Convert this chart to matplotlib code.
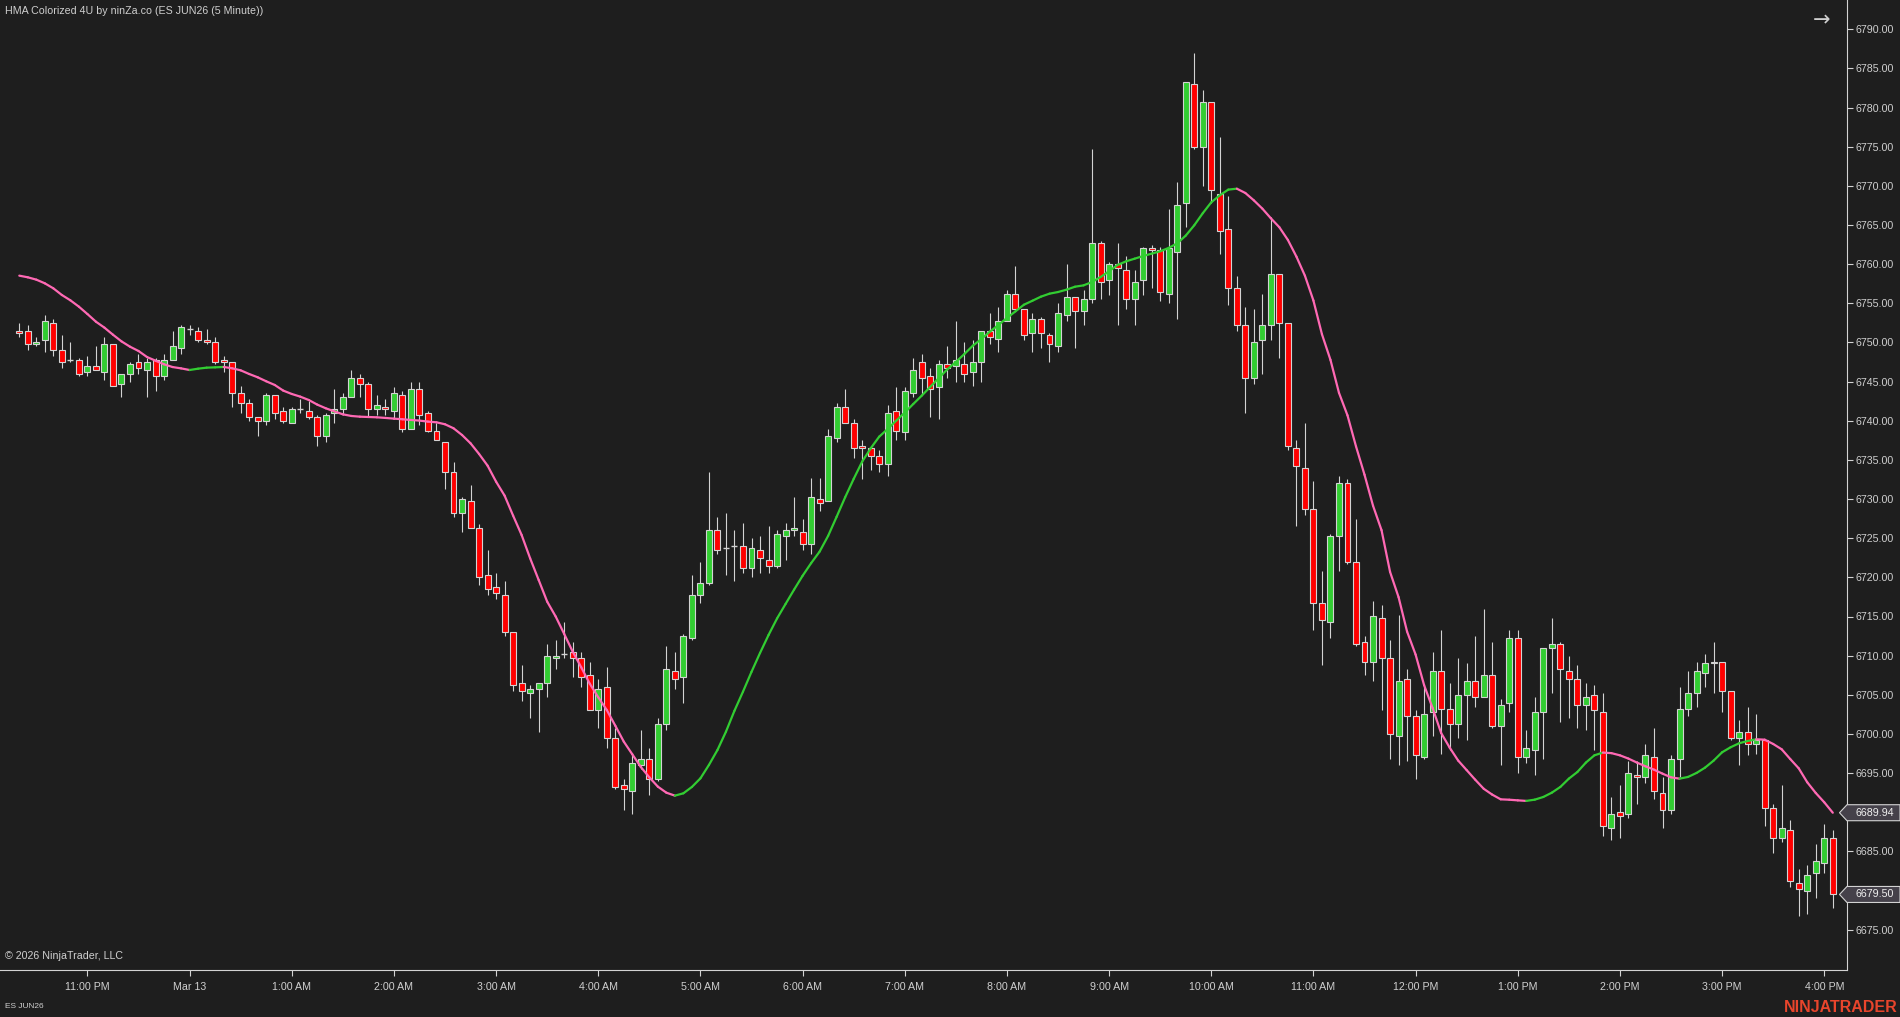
import numpy as np
import matplotlib
matplotlib.use('Agg')
import matplotlib.pyplot as plt
from matplotlib.collections import LineCollection
from matplotlib.patches import Polygon
from matplotlib.transforms import IdentityTransform

# ES JUN26, 5 minute bars (OHLC)
opens = [6751.5, 6751.5, 6749.75, 6750.25, 6752.5, 6749.0, 6747.75, 6747.75, 6746.25, 6747.0,
         6746.25, 6749.75, 6744.75, 6746.0, 6747.5, 6746.5, 6747.75, 6745.75, 6747.75, 6749.25,
         6751.75, 6751.5, 6750.25, 6750.0, 6747.75, 6747.5, 6743.5, 6742.25, 6740.5, 6740.0,
         6743.25, 6741.25, 6739.75, 6741.5, 6741.25, 6740.5, 6738.0, 6741.0, 6741.5, 6743.0,
         6745.5, 6744.75, 6741.5, 6741.75, 6741.25, 6743.25, 6739.0, 6744.0, 6741.0, 6738.75,
         6737.25, 6733.5, 6728.25, 6729.75, 6726.25, 6720.25, 6718.75, 6717.75, 6713.0, 6706.5,
         6705.25, 6705.75, 6706.5, 6709.75, 6710.25, 6710.5, 6709.75, 6707.5, 6703.0, 6706.0,
         6699.5, 6693.5, 6692.75, 6696.0, 6696.75, 6694.25, 6701.25, 6708.0, 6707.25, 6712.25,
         6717.75, 6719.25, 6726.0, 6723.75, 6724.0, 6724.0, 6721.25, 6723.5, 6722.25, 6721.5,
         6725.25, 6726.0, 6725.75, 6724.25, 6730.0, 6729.75, 6737.75, 6741.75, 6739.75, 6736.75,
         6736.5, 6735.5, 6734.5, 6741.25, 6738.5, 6743.5, 6747.5, 6745.75, 6744.25, 6747.25,
         6747.0, 6747.25, 6746.25, 6747.5, 6751.5, 6750.5, 6752.75, 6756.25, 6754.25, 6751.25,
         6753.0, 6751.0, 6749.5, 6753.5, 6755.75, 6754.0, 6755.5, 6762.75, 6758.0, 6760.0,
         6759.25, 6755.5, 6758.0, 6762.0, 6761.75, 6756.25, 6761.5, 6767.75, 6783.0, 6775.0,
         6780.75, 6769.0, 6764.5, 6757.0, 6752.25, 6745.5, 6750.25, 6752.25, 6758.75, 6752.5,
         6736.5, 6734.0, 6728.75, 6716.75, 6714.25, 6725.25, 6732.0, 6722.0, 6711.75, 6709.25,
         6714.75, 6709.75, 6699.75, 6707.0, 6702.25, 6697.0, 6702.75, 6708.0, 6703.25, 6701.25,
         6705.0, 6706.75, 6704.75, 6707.5, 6701.0, 6704.0, 6712.25, 6697.0, 6698.0, 6702.75,
         6711.0, 6711.5, 6708.0, 6707.0, 6703.75, 6705.0, 6702.75, 6688.0, 6690.0, 6689.75,
         6694.75, 6694.5, 6697.0, 6692.5, 6690.25, 6696.75, 6703.25, 6705.25, 6707.75, 6709.0,
         6709.25, 6705.5, 6699.5, 6700.25, 6698.75, 6699.25, 6690.5, 6686.75, 6687.75, 6681.0,
         6680.0, 6682.25, 6683.5, 6686.75]
highs = [6752.5, 6752.25, 6750.75, 6753.5, 6753.0, 6751.0, 6750.0, 6748.0, 6748.25, 6749.5,
         6750.75, 6749.75, 6746.0, 6747.5, 6748.5, 6748.0, 6748.0, 6748.5, 6751.5, 6752.25,
         6752.25, 6752.0, 6751.75, 6750.75, 6748.25, 6747.5, 6744.5, 6742.75, 6740.5, 6743.5,
         6743.25, 6741.75, 6741.75, 6742.75, 6742.5, 6740.75, 6741.0, 6744.0, 6743.5, 6746.5,
         6746.0, 6745.0, 6743.25, 6742.75, 6744.25, 6743.75, 6745.0, 6745.0, 6741.25, 6739.75,
         6737.25, 6734.75, 6730.25, 6731.75, 6726.75, 6723.5, 6720.5, 6719.5, 6713.0, 6708.75,
         6706.25, 6706.5, 6711.5, 6712.0, 6714.25, 6711.75, 6710.5, 6709.25, 6707.0, 6708.5,
         6700.75, 6694.25, 6697.5, 6700.5, 6698.25, 6702.0, 6711.25, 6710.5, 6712.75, 6720.25,
         6722.0, 6733.5, 6727.75, 6728.25, 6726.0, 6727.0, 6725.0, 6725.25, 6726.5, 6726.0,
         6727.0, 6730.25, 6727.5, 6732.75, 6732.75, 6739.0, 6742.25, 6744.0, 6740.25, 6737.5,
         6736.75, 6736.25, 6742.0, 6744.25, 6744.25, 6748.0, 6748.5, 6746.75, 6747.75, 6749.5,
         6752.75, 6750.0, 6750.25, 6751.5, 6753.75, 6754.5, 6756.75, 6759.75, 6754.25, 6753.75,
         6753.25, 6751.25, 6755.0, 6760.0, 6755.75, 6756.75, 6774.75, 6763.0, 6760.25, 6762.75,
         6761.0, 6759.25, 6762.25, 6762.5, 6762.25, 6767.0, 6770.5, 6783.25, 6787.0, 6782.25,
         6780.75, 6776.25, 6768.75, 6758.5, 6754.5, 6754.25, 6756.25, 6766.0, 6758.75, 6752.5,
         6737.5, 6739.75, 6732.25, 6720.75, 6725.5, 6733.0, 6732.5, 6727.5, 6712.5, 6717.0,
         6716.5, 6712.0, 6715.25, 6708.25, 6703.0, 6706.0, 6710.5, 6713.25, 6706.5, 6709.75,
         6709.0, 6712.5, 6716.0, 6711.75, 6704.5, 6713.25, 6713.25, 6700.5, 6704.75, 6711.0,
         6714.75, 6711.75, 6710.0, 6708.75, 6706.5, 6706.25, 6705.25, 6692.0, 6693.5, 6696.5,
         6696.5, 6698.75, 6700.75, 6694.5, 6697.25, 6706.0, 6708.0, 6709.25, 6710.25, 6711.75,
         6709.25, 6705.5, 6701.75, 6703.5, 6702.5, 6699.25, 6691.0, 6693.5, 6689.0, 6682.75,
         6683.25, 6686.0, 6688.5, 6687.75]
lows = [6750.75, 6749.0, 6749.5, 6748.75, 6748.25, 6746.75, 6747.5, 6745.75, 6745.75, 6746.5,
        6745.25, 6744.5, 6743.0, 6745.0, 6746.0, 6743.0, 6743.75, 6745.25, 6747.75, 6748.5,
        6751.0, 6750.0, 6749.75, 6747.25, 6746.25, 6741.75, 6741.0, 6740.0, 6738.0, 6739.5,
        6740.25, 6739.75, 6739.75, 6741.0, 6740.25, 6736.75, 6737.25, 6739.75, 6740.75, 6743.0,
        6743.0, 6740.5, 6740.75, 6740.75, 6740.25, 6738.5, 6739.0, 6739.5, 6738.5, 6737.5,
        6731.25, 6727.75, 6725.75, 6726.25, 6719.0, 6717.75, 6717.25, 6712.5, 6705.5, 6704.25,
        6702.0, 6700.25, 6704.75, 6708.25, 6709.75, 6707.25, 6706.0, 6703.0, 6700.75, 6698.25,
        6693.0, 6690.25, 6689.75, 6695.5, 6692.25, 6694.0, 6700.5, 6705.75, 6704.0, 6712.0,
        6716.75, 6719.0, 6723.0, 6720.25, 6719.5, 6720.5, 6720.0, 6720.5, 6720.5, 6721.25,
        6722.25, 6725.25, 6723.5, 6723.0, 6728.5, 6729.75, 6737.25, 6739.75, 6735.25, 6732.5,
        6733.75, 6733.5, 6733.0, 6737.5, 6737.5, 6743.0, 6743.25, 6740.5, 6740.25, 6745.5,
        6745.0, 6745.0, 6744.5, 6745.0, 6749.75, 6748.75, 6752.75, 6754.25, 6750.25, 6748.75,
        6749.25, 6747.5, 6748.75, 6752.75, 6749.25, 6752.25, 6755.0, 6755.5, 6756.0, 6752.25,
        6754.25, 6752.25, 6756.0, 6757.0, 6755.25, 6755.0, 6753.0, 6764.75, 6774.75, 6770.0,
        6767.75, 6761.25, 6754.75, 6751.5, 6741.0, 6744.75, 6746.0, 6750.25, 6748.0, 6736.25,
        6726.5, 6728.0, 6713.25, 6708.75, 6712.25, 6720.75, 6721.75, 6711.25, 6707.5, 6706.75,
        6703.0, 6696.75, 6696.0, 6696.5, 6694.25, 6696.75, 6699.75, 6697.5, 6698.0, 6699.5,
        6699.25, 6703.5, 6704.75, 6700.75, 6696.0, 6702.75, 6695.0, 6696.25, 6694.75, 6696.75,
        6705.25, 6701.5, 6702.0, 6700.75, 6700.5, 6698.0, 6687.0, 6686.5, 6686.75, 6689.25,
        6691.0, 6693.75, 6691.75, 6688.0, 6689.75, 6694.5, 6702.25, 6703.5, 6706.0, 6705.25,
        6702.75, 6699.25, 6696.0, 6697.25, 6697.5, 6688.25, 6684.75, 6686.25, 6680.5, 6676.75,
        6677.0, 6679.0, 6682.25, 6677.75]
closes = [6751.25, 6749.75, 6750.0, 6752.75, 6749.0, 6747.5, 6747.75, 6746.0, 6747.0, 6746.5,
          6749.75, 6744.5, 6746.0, 6747.25, 6746.75, 6747.5, 6745.75, 6747.75, 6749.5, 6752.0,
          6751.75, 6750.25, 6750.0, 6747.5, 6747.5, 6743.5, 6742.25, 6740.5, 6740.0, 6743.25,
          6741.0, 6740.0, 6741.5, 6741.5, 6740.5, 6738.0, 6740.75, 6741.5, 6743.0, 6745.5,
          6744.75, 6741.5, 6742.0, 6741.5, 6743.5, 6739.0, 6744.0, 6740.75, 6738.75, 6737.5,
          6733.5, 6728.25, 6730.0, 6726.25, 6720.0, 6718.5, 6718.0, 6713.0, 6706.25, 6705.5,
          6705.75, 6706.5, 6710.0, 6710.0, 6710.25, 6709.75, 6707.25, 6703.0, 6705.75, 6699.5,
          6693.25, 6693.0, 6696.25, 6696.75, 6694.25, 6701.25, 6708.25, 6707.0, 6712.5, 6717.75,
          6719.25, 6726.0, 6723.5, 6723.75, 6724.0, 6721.25, 6723.75, 6722.5, 6721.5, 6725.5,
          6726.0, 6726.25, 6724.25, 6730.25, 6729.5, 6738.0, 6741.75, 6739.75, 6736.5, 6736.5,
          6735.5, 6734.5, 6741.0, 6738.75, 6743.75, 6746.5, 6745.5, 6744.0, 6747.25, 6746.75,
          6747.75, 6746.0, 6747.5, 6751.5, 6750.75, 6752.75, 6756.25, 6754.25, 6751.0, 6753.0,
          6751.25, 6749.75, 6753.75, 6755.75, 6754.0, 6755.5, 6762.75, 6757.75, 6760.0, 6759.5,
          6755.5, 6757.75, 6762.0, 6761.75, 6756.5, 6762.0, 6767.5, 6783.25, 6775.0, 6780.75,
          6769.5, 6764.25, 6757.0, 6752.25, 6745.5, 6750.0, 6752.25, 6758.75, 6752.5, 6736.75,
          6734.25, 6728.75, 6716.75, 6714.5, 6725.25, 6732.0, 6722.0, 6711.5, 6709.25, 6715.0,
          6709.75, 6700.0, 6706.75, 6702.25, 6697.25, 6702.5, 6708.0, 6703.25, 6701.25, 6705.0,
          6706.75, 6704.75, 6707.5, 6701.0, 6703.75, 6712.25, 6697.0, 6698.25, 6702.75, 6711.0,
          6711.5, 6708.25, 6707.0, 6703.75, 6704.75, 6703.0, 6688.25, 6689.75, 6689.5, 6695.0,
          6694.5, 6697.25, 6692.75, 6690.25, 6696.75, 6703.25, 6705.25, 6708.0, 6709.0, 6709.25,
          6705.5, 6699.5, 6700.25, 6698.75, 6699.25, 6690.5, 6686.75, 6688.0, 6681.25, 6680.25,
          6682.0, 6683.75, 6686.75, 6679.5]

# HMA Colorized 4U values, one per bar
hma = [6758.53, 6758.32, 6758.02, 6757.55, 6756.91, 6756.06, 6755.38, 6754.57, 6753.63, 6752.65,
       6751.89, 6750.99, 6750.14, 6749.46, 6748.91, 6748.14, 6747.67, 6747.21, 6746.86, 6746.69,
       6746.48, 6746.65, 6746.78, 6746.82, 6746.87, 6746.70, 6746.44, 6745.97, 6745.55, 6745.04,
       6744.57, 6743.85, 6743.42, 6743.08, 6742.65, 6742.06, 6741.59, 6741.20, 6740.82, 6740.61,
       6740.52, 6740.48, 6740.44, 6740.36, 6740.27, 6740.19, 6740.10, 6740.02, 6739.89, 6739.80,
       6739.55, 6739.04, 6738.18, 6737.12, 6735.76, 6734.27, 6732.22, 6730.44, 6727.88, 6725.41,
       6722.43, 6719.67, 6716.90, 6715.00, 6712.77, 6710.51, 6708.51, 6706.42, 6704.68, 6703.06,
       6701.06, 6699.02, 6697.40, 6695.78, 6694.46, 6693.27, 6692.50, 6692.12, 6692.42, 6693.23,
       6694.33, 6696.04, 6697.95, 6700.29, 6702.97, 6705.40, 6707.93, 6710.34, 6712.63, 6714.75,
       6716.60, 6718.43, 6720.20, 6721.81, 6723.29, 6725.30, 6727.74, 6730.23, 6732.57, 6734.78,
       6736.48, 6737.97, 6738.95, 6740.02, 6741.04, 6742.14, 6743.21, 6744.33, 6745.46, 6746.57,
       6747.50, 6748.52, 6749.59, 6750.44, 6751.38, 6752.23, 6753.12, 6753.97, 6754.82, 6755.33,
       6755.85, 6756.23, 6756.44, 6756.74, 6757.12, 6757.29, 6757.72, 6758.36, 6759.10, 6759.90,
       6760.36, 6760.70, 6761.04, 6761.34, 6761.64, 6762.07, 6762.66, 6763.64, 6764.96, 6766.50,
       6767.90, 6768.79, 6769.52, 6769.64, 6769.09, 6768.15, 6767.09, 6765.86, 6764.71, 6763.09,
       6760.97, 6758.53, 6755.35, 6751.05, 6747.78, 6743.57, 6740.69, 6736.73, 6733.11, 6729.15,
       6726.02, 6720.70, 6717.47, 6713.07, 6710.14, 6706.23, 6703.30, 6700.12, 6698.26, 6696.60,
       6695.38, 6694.16, 6693.00, 6692.25, 6691.65, 6691.60, 6691.52, 6691.45, 6691.61, 6691.95,
       6692.50, 6693.23, 6694.29, 6695.14, 6696.34, 6697.27, 6697.62, 6697.55, 6697.27, 6696.85,
       6696.34, 6695.87, 6695.44, 6694.93, 6694.46, 6694.29, 6694.51, 6695.02, 6695.70, 6696.59,
       6697.66, 6698.30, 6698.81, 6699.10, 6699.32, 6699.27, 6698.72, 6698.04, 6696.80, 6695.61,
       6693.83, 6692.46, 6691.27, 6689.94]

# hourly time axis labels and the bar each one sits on
time_labels = ['11:00 PM', 'Mar 13', '1:00 AM', '2:00 AM', '3:00 AM', '4:00 AM', '5:00 AM',
               '6:00 AM', '7:00 AM', '8:00 AM', '9:00 AM', '10:00 AM', '11:00 AM', '12:00 PM',
               '1:00 PM', '2:00 PM', '3:00 PM', '4:00 PM']
time_label_bars = [8, 20, 32, 44, 56, 68, 80, 92, 104, 116, 128, 140, 152, 164, 176, 188, 200, 212]
price_ticks = list(range(6675, 6795, 5))

BG = '#1e1e1e'
FG = '#cfcfcf'
OUTLINE = '#d3d3d3'
UP = '#32cd32'
DOWN = '#ff0000'
HMA_UP = '#32cd32'
HMA_DOWN = '#ff69b4'

plt.rcParams['font.family'] = ['Liberation Sans', 'DejaVu Sans']
FS = 7.7

W, H = 1900, 1017
fig = plt.figure(figsize=(W / 100, H / 100), dpi=100, facecolor=BG)
ax = fig.add_axes([0, 47 / H, 1846.7 / W, 970 / H], facecolor=BG)

o = np.array(opens); h = np.array(highs); l = np.array(lows); c = np.array(closes)
n = len(c)
x = np.arange(n)

# wicks
ax.vlines(x, l, h, color=OUTLINE, lw=0.8, zorder=1)

# bodies
doji = o == c
body_col = np.where(c > o, UP, DOWN)
m = ~doji
ax.bar(x[m], (c - o)[m], bottom=o[m], width=0.7, color=body_col[m],
       edgecolor=OUTLINE, linewidth=0.8, zorder=2)
ax.hlines(c[doji], x[doji] - 0.35, x[doji] + 0.35, color=OUTLINE, lw=1.0, zorder=2)

# HMA line, colored by direction
hv = np.array(hma)
segs = [[(i - 1, hv[i - 1]), (i, hv[i])] for i in range(1, n)]
seg_cols = [HMA_UP if hv[i] > hv[i - 1] else HMA_DOWN for i in range(1, n)]
ax.add_collection(LineCollection(segs, colors=seg_cols, linewidths=1.6, zorder=3,
                                 capstyle='round'))

# bar 0 sits 19.3 px from the left edge, 8.514 px per bar
ax.set_xlim(-19.3 / 8.514, (1846.7 - 19.3) / 8.514)
ax.set_ylim(6675 - 40.3 / 7.83, 6675 + 929.7 / 7.83)

for s in ['left', 'top']:
    ax.spines[s].set_visible(False)
for s in ['right', 'bottom']:
    ax.spines[s].set_color(OUTLINE)
    ax.spines[s].set_linewidth(0.8)

ax.yaxis.tick_right()
ax.set_yticks(price_ticks)
ax.set_yticklabels([f'{v:.2f}' for v in price_ticks])
ax.tick_params(axis='y', colors=OUTLINE, labelcolor=FG, length=4, width=0.8, pad=2.5,
               labelsize=FS)
ax.set_xticks(time_label_bars)
ax.set_xticklabels(time_labels)
ax.tick_params(axis='x', colors=OUTLINE, labelcolor=FG, length=4, width=0.8, pad=5,
               labelsize=FS)

fig.text(5 / W, 1 - 11.5 / H, 'HMA Colorized 4U by ninZa.co (ES JUN26 (5 Minute))',
         ha='left', va='center', color=FG, fontsize=FS)
fig.text(1822 / W, 1 - 20 / H, '\u2192', ha='center', va='center', color=FG,
         fontsize=15, family='DejaVu Sans')
fig.text(5 / W, 1 - 956 / H, '\u00a9 2026 NinjaTrader, LLC', ha='left', va='center',
         color=FG, fontsize=FS)
fig.text(5 / W, 1 - 1007 / H, 'ES JUN26', ha='left', va='center', color=FG, fontsize=6)
fig.text(1898 / W, 1 - 1007 / H, 'NINJATRADER', ha='right', va='center',
         color='#e8452c', fontsize=11.5, fontweight='bold')

# price markers on the right axis: last HMA value and last close
fig.canvas.draw()
for val in [hv[-1], c[-1]]:
    yd = ax.transData.transform((0, val))[1]
    pts = [(1839.5, yd), (1847, yd + 8), (1900, yd + 8), (1900, yd - 8), (1847, yd - 8)]
    fig.add_artist(Polygon(pts, closed=True, facecolor='#45414a', edgecolor=OUTLINE,
                           linewidth=0.8, transform=IdentityTransform(), zorder=5))
    fig.text(1855 / W, yd / H, f'{val:.2f}', ha='left', va='center', color='#f0f0f0',
             fontsize=FS, zorder=6)

fig.savefig('out.png', dpi=100, facecolor=BG)
